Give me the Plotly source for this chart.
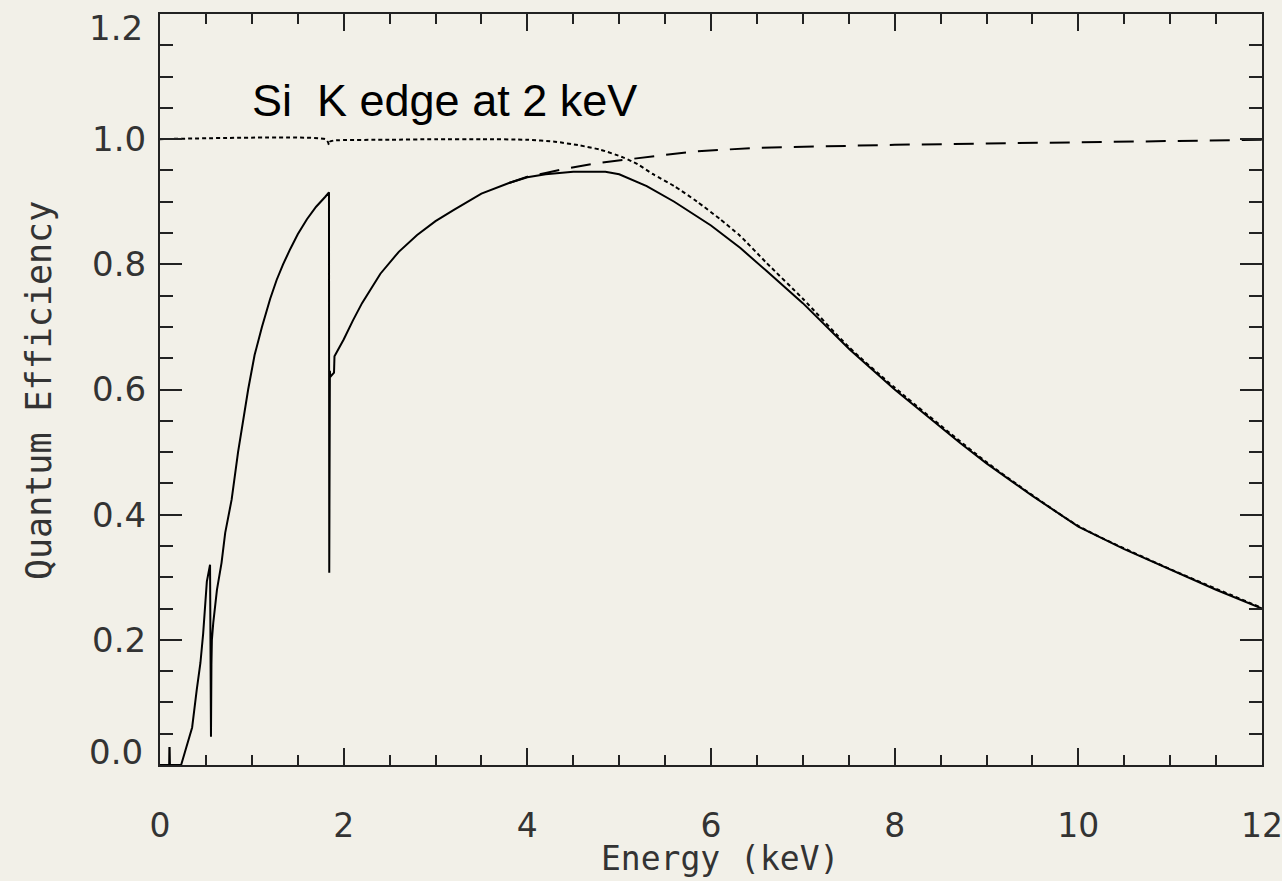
import plotly.graph_objects as go

# ---- data ----
qe_energy = [0.0, 0.10, 0.102, 0.105, 0.108, 0.15, 0.23, 0.27, 0.35, 0.40, 0.44, 0.47, 0.49,
             0.51, 0.545, 0.548, 0.555, 0.560, 0.565, 0.58, 0.62, 0.67, 0.71, 0.78, 0.85,
             0.96, 1.03, 1.11, 1.20, 1.27, 1.34, 1.42, 1.50, 1.60, 1.70, 1.80, 1.84,
             1.843, 1.846, 1.850, 1.855, 1.895, 1.90, 2.00, 2.10, 2.20, 2.40, 2.60, 2.80,
             3.00, 3.20, 3.50, 3.80, 4.00, 4.20, 4.50, 4.85, 5.00, 5.30, 5.60, 6.00, 6.32,
             6.60, 7.00, 7.51, 8.00, 8.71, 9.00, 9.50, 10.0, 10.5, 11.0, 11.5, 12.0]
qe_value = [0.0, 0.0, 0.027, 0.027, 0.0, 0.0, 0.0, 0.02, 0.06, 0.12, 0.163, 0.21, 0.245,
            0.293, 0.32, 0.20, 0.045, 0.16, 0.20, 0.227, 0.28, 0.323, 0.371, 0.424, 0.50,
            0.60, 0.655, 0.70, 0.745, 0.775, 0.80, 0.825, 0.848, 0.872, 0.892, 0.908, 0.915,
            0.307, 0.563, 0.63, 0.62, 0.627, 0.653, 0.68, 0.71, 0.738, 0.785, 0.82, 0.847,
            0.869, 0.887, 0.913, 0.930, 0.939, 0.944, 0.948, 0.948, 0.944, 0.925, 0.90, 0.862,
            0.826, 0.79, 0.738, 0.664, 0.60, 0.515, 0.482, 0.43, 0.381, 0.345, 0.312, 0.28, 0.25]

abs_energy = [0.0, 1.80, 1.83, 1.84, 1.85, 1.90, 2.5, 3.0, 3.5, 4.0, 4.3, 4.57, 4.8, 5.04,
              5.2, 5.37, 5.6, 5.85, 6.1, 6.32, 6.6, 7.0, 7.5, 8.0, 9.0, 10.0, 11.0, 12.0]
abs_value = [1.0, 1.0, 0.995, 0.991, 0.996, 0.998, 0.999, 1.0, 1.0, 0.999, 0.996, 0.99, 0.983,
             0.971, 0.96, 0.944, 0.925, 0.90, 0.872, 0.845, 0.803, 0.745, 0.668, 0.603, 0.484,
             0.382, 0.313, 0.251]

filt_energy = [3.8, 4.0, 4.2, 4.39, 4.77, 5.1, 5.47, 5.8, 6.46, 7.0, 8.0, 9.0, 10.0, 11.0, 12.0]
filt_value = [0.930, 0.940, 0.946, 0.952, 0.962, 0.968, 0.975, 0.98, 0.986, 0.988, 0.991,
              0.993, 0.995, 0.997, 0.999]

x_ticks = [0, 2, 4, 6, 8, 10, 12]
y_ticks = [0.0, 0.2, 0.4, 0.6, 0.8, 1.0, 1.2]
y_ticklabels = ["%.1f" % v for v in y_ticks]

BG = "#f2f0e8"
AX = "#222222"

fig = go.Figure()
fig.add_trace(go.Scatter(x=abs_energy, y=abs_value, mode="lines", line_shape="spline",
                         line=dict(color="black", width=2, dash="4px,3px", smoothing=0.6),
                         showlegend=False))
fig.add_trace(go.Scatter(x=filt_energy, y=filt_value, mode="lines",
                         line=dict(color="black", width=2, dash="20px,12px"), showlegend=False))
fig.add_trace(go.Scatter(x=qe_energy, y=qe_value, mode="lines",
                         line=dict(color="black", width=2), showlegend=False))

xtickfont = dict(family="DejaVu Sans", size=33, color="#333333")
ytickfont = dict(family="DejaVu Sans", size=34, color="#333333")
fig.update_xaxes(range=[0, 12], tickvals=x_ticks, ticktext=[str(v) for v in x_ticks],
                 ticks="inside", ticklen=17, tickwidth=2, tickcolor=AX,
                 showline=True, linecolor=AX, linewidth=2, mirror="ticks",
                 showgrid=False, zeroline=False, tickfont=xtickfont, ticklabelstandoff=30,
                 ticklabeloverflow="allow", automargin=False,
                 minor=dict(dtick=0.5, ticks="inside", ticklen=10, tickwidth=2, tickcolor=AX,
                            showgrid=False))
# the end labels (0.0 and 1.2) are nudged inward in the reference, so they are drawn separately
inner_text = [t if 0 < i < len(y_ticks) - 1 else "" for i, t in enumerate(y_ticklabels)]
fig.update_yaxes(range=[0, 1.2], tickvals=y_ticks, ticktext=inner_text,
                 ticks="inside", ticklen=22, tickwidth=2, tickcolor=AX,
                 showline=True, linecolor=AX, linewidth=2, mirror="ticks",
                 showgrid=False, zeroline=False, tickfont=ytickfont, ticklabelstandoff=5,
                 ticklabeloverflow="allow", automargin=False,
                 minor=dict(dtick=0.05, ticks="inside", ticklen=13, tickwidth=2, tickcolor=AX,
                            showgrid=False))
fig.add_annotation(text=y_ticklabels[0], xref="paper", yref="y", x=-0.0136, y=y_ticks[0],
                   xanchor="right", yanchor="middle", yshift=13, showarrow=False, font=ytickfont)
fig.add_annotation(text=y_ticklabels[-1], xref="paper", yref="y", x=-0.0136, y=y_ticks[-1],
                   xanchor="right", yanchor="middle", yshift=-14, showarrow=False, font=ytickfont)

fig.add_annotation(text="Energy (keV)", xref="paper", yref="paper", x=0.508, y=-0.1525,
                   xanchor="center", yanchor="bottom", showarrow=False,
                   font=dict(family="DejaVu Sans Mono", size=33, color="#333333"))
fig.add_annotation(text="Quantum Efficiency", xref="paper", yref="paper", x=-0.110, y=0.499,
                   xanchor="center", yanchor="middle", textangle=-90, showarrow=False,
                   font=dict(family="DejaVu Sans Mono", size=35, color="#333333"))
fig.add_annotation(text="Si\u00a0 K edge at 2 keV", xref="x", yref="y", x=0.98, y=1.061,
                   xanchor="left", yanchor="middle", showarrow=False,
                   font=dict(family="Liberation Sans", size=45, color="black"))

fig.update_layout(width=1282, height=881, margin=dict(l=160, r=20, t=14, b=116, autoexpand=False),
                  paper_bgcolor=BG, plot_bgcolor=BG)
fig.write_html("out.html")
